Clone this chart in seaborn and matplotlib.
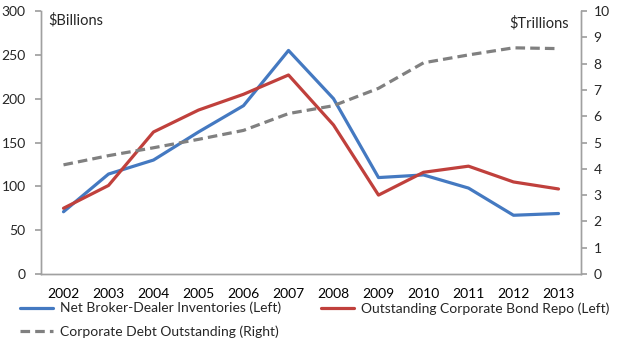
import matplotlib
matplotlib.use("Agg")
import matplotlib.pyplot as plt
import seaborn as sns
import pandas as pd
from matplotlib.ticker import FixedLocator

years = [2002, 2003, 2004, 2005, 2006, 2007, 2008, 2009, 2010, 2011, 2012, 2013]
inventories = [71, 114, 130, 162, 192, 255, 200, 110, 113, 98, 67, 69]
repo = [75, 101, 162, 187, 205, 227, 170, 90, 116, 123, 105, 97]
debt = [4.15, 4.5, 4.8, 5.12, 5.46, 6.1, 6.4, 7.06, 8.03, 8.33, 8.6, 8.57]
labels = ["Net Broker-Dealer Inventories (Left)",
          "Outstanding Corporate Bond Repo (Left)",
          "Corporate Debt Outstanding (Right)"]

sns.set_theme(style="white")
plt.rcParams['font.family'] = ['Lato', 'DejaVu Sans']

df = pd.DataFrame({"year": years, "inv": inventories, "repo": repo, "debt": debt})

fig = plt.figure(figsize=(6.2, 3.42), dpi=100)
ax = fig.add_axes([41/620, 1-274/342, (581-41)/620, (274-11)/342])
ax2 = ax.twinx()

blue = "#4479C1"
red = "#C0403C"
gray = "#808080"

sns.lineplot(data=df, x="year", y="inv", ax=ax, color=blue, linewidth=2.3, label=labels[0], legend=False)
sns.lineplot(data=df, x="year", y="repo", ax=ax, color=red, linewidth=2.3, label=labels[1], legend=False)
sns.lineplot(data=df, x="year", y="debt", ax=ax2, color=gray, linewidth=2.3, linestyle=(0, (3, 1.6)),
             label=labels[2], legend=False)

ax.set_xlim(2001.5, 2013.5)
ax.set_ylim(0, 300)
ax2.set_ylim(0, 10)
ax.set_yticks(range(0, 301, 50))
ax2.set_yticks(range(0, 11, 1))
ax.set_xticks(years)
ax.set_xticklabels([str(y) for y in years])
ax.xaxis.set_minor_locator(FixedLocator([y + 0.5 for y in range(2001, 2014)]))

for a in (ax, ax2):
    a.set_xlabel("")
    a.set_ylabel("")
    for s in a.spines.values():
        s.set_color("#A0A0A0")
        s.set_linewidth(1.0)
    a.spines["top"].set_visible(False)

ax.tick_params(axis="x", which="major", length=0, pad=10, labelsize=10, colors="black")
ax.tick_params(axis="x", which="minor", length=4, color="#A0A0A0", direction="out", width=1)
ax.tick_params(axis="y", length=4, color="#A0A0A0", direction="out", labelsize=10, pad=7, left=True)
ax2.tick_params(axis="y", length=4, color="#A0A0A0", direction="out", labelsize=10, pad=5, right=True)

ax.text(48/620, 1-20/342, r"\$Billions", transform=fig.transFigure, fontsize=10.5, va="center", ha="left")
ax.text(569/620, 1-23/342, r"\$Trillions", transform=fig.transFigure, fontsize=10.5, va="center", ha="right")

h1, l1 = ax.get_legend_handles_labels()
h2, l2 = ax2.get_legend_handles_labels()
fig.legend([h1[0], h2[0]], [l1[0], l2[0]], loc="center left",
           bbox_to_anchor=(20/620, 1-320/342), ncol=1,
           frameon=False, fontsize=10, handlelength=2.4, handletextpad=0.45,
           labelspacing=0.8, borderaxespad=0, borderpad=0)
fig.legend([h1[1]], [l1[1]], loc="center left",
           bbox_to_anchor=(321/620, 1-309/342), ncol=1,
           frameon=False, fontsize=10, handlelength=2.4, handletextpad=0.45,
           borderaxespad=0, borderpad=0)

fig.savefig("out.png", dpi=100)
